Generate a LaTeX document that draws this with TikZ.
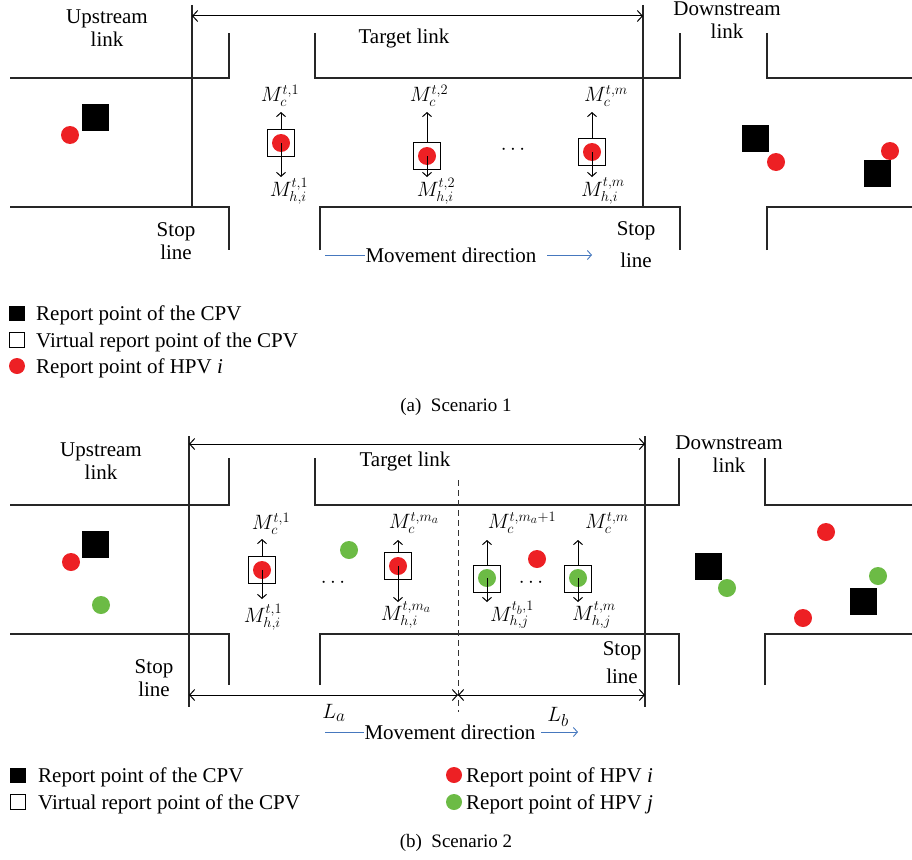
\documentclass[tikz,border=0pt]{standalone}
\usepackage{fontspec}
\setmainfont{Liberation Serif}
\usetikzlibrary{arrows.meta}
\definecolor{hpvred}{RGB}{237,32,36}
\definecolor{hpvgreen}{RGB}{108,187,69}
\definecolor{mvblue}{RGB}{70,120,190}
\DeclareMathSizes{20}{20}{15.5}{12}
\DeclareMathSizes{21}{21}{16}{12}
\newcommand\lblfont{\fontsize{21}{25}\selectfont}
\newcommand\capfont{\fontsize{19}{23}\selectfont}
\newcommand\mathfnt{\fontsize{20}{23}\selectfont}
\begin{document}
\begin{tikzpicture}[x=1pt,y=-1pt,
  road/.style={line width=1.1pt,black!85},
  dimarr/.style={line width=1pt,{Straight Barb[length=5pt,width=11pt]}-{Straight Barb[length=5pt,width=11pt]}},
  marr/.style={line width=1pt,-{Straight Barb[length=4pt,width=9pt]}},
  mvarr/.style={line width=0.9pt,mvblue,-{Straight Barb[length=4pt,width=9pt]}},
  mvline/.style={line width=0.9pt,mvblue},
  cpv/.style={rectangle,fill=black,minimum size=27pt,inner sep=0pt},
  vbox/.style={rectangle,draw,line width=1pt,minimum size=27pt,inner sep=0pt},
  hpvi/.style={circle,fill=hpvred,minimum size=18pt,inner sep=0pt},
  hpvj/.style={circle,fill=hpvgreen,minimum size=18pt,inner sep=0pt},
  legsq/.style={rectangle,fill=black,minimum width=16pt,minimum height=15pt,inner sep=0pt},
  legvsq/.style={rectangle,draw,line width=0.9pt,minimum width=15pt,minimum height=15pt,inner sep=0pt},
  legci/.style={circle,fill=#1,minimum size=16pt,inner sep=0pt},
  lbl/.style={font=\lblfont,align=center,inner sep=0pt},
  leglbl/.style={font=\lblfont,anchor=base west,inner sep=0pt},
  caplbl/.style={font=\capfont,inner sep=0pt},
  mlbl/.style={font=\mathfnt,inner sep=0pt},
  bigm/.style={font=\lblfont,inner sep=0pt}]
\useasboundingbox (0,0) rectangle (912,859);

% ================= Scenario 1 =================
\draw[road] (10,78) -- (229,78) -- (229,33);
\draw[road] (315,33) -- (315,78) -- (680,78) -- (680,33);
\draw[road] (767,33) -- (767,78) -- (912,78);
\draw[road] (10,207) -- (229,207) -- (229,250);
\draw[road] (320,250) -- (320,207) -- (680,207) -- (680,250);
\draw[road] (767,250) -- (767,207) -- (912,207);
\draw[road] (192,5) -- (192,207);
\draw[road] (643,5) -- (643,207);
\coordinate (ta1) at (192,16);
\coordinate (ta2) at (643,16);
\draw[dimarr] (ta1) -- (ta2);

\node[lbl] (upa) at (107,28) {Upstream\\[-2pt]link};
\node[lbl] (tga) at (404,38) {Target link};
\node[lbl] (dna) at (727,20) {Downstream\\[-2pt]link};
\node[lbl] (sla) at (176,241) {Stop\\[-2pt]line};
\node[lbl] (slb) at (636,245) {Stop\\[7pt]line};

\node[hpvi] (ua1) at (70,135) {};
\node[cpv] (ua2) at (95,117) {};

\node[vbox] (va1) at (281,143) {};
\node[hpvi] (ra1) at (281,143) {};
\coordinate (va1u) at (281,112);
\coordinate (va1d) at (281,177);
\draw[marr] (va1.north) -- (va1u);
\draw[marr] (ra1.center) -- (va1d);
\node[mlbl] (mca1) at (280,96) {$M_c^{t,1}$};
\node[mlbl] (mha1) at (289,191) {$M_{h,i}^{t,1}$};

\node[vbox] (va2) at (427,156) {};
\node[hpvi] (ra2) at (427,156) {};
\coordinate (va2u) at (427,112);
\coordinate (va2d) at (427,177);
\draw[marr] (va2.north) -- (va2u);
\draw[marr] (ra2.center) -- (va2d);
\node[mlbl] (mca2) at (429,96) {$M_c^{t,2}$};
\node[mlbl] (mha2) at (436,191) {$M_{h,i}^{t,2}$};

\node[bigm] (dota) at (513,150) {$\cdots$};

\node[vbox] (va3) at (592,152) {};
\node[hpvi] (ra3) at (592,152) {};
\coordinate (va3u) at (592,112);
\coordinate (va3d) at (592,177);
\draw[marr] (va3.north) -- (va3u);
\draw[marr] (ra3.center) -- (va3d);
\node[mlbl] (mca3) at (606,96) {$M_c^{t,m}$};
\node[mlbl] (mha3) at (603,191) {$M_{h,i}^{t,m}$};

\node[cpv] (da1) at (755,138) {};
\node[hpvi] (da2) at (776,162) {};
\node[hpvi] (da3) at (890,151) {};
\node[cpv] (da4) at (877,173) {};

\coordinate (mva1) at (325,255);
\node[lbl] (mvat) at (451,255) {Movement direction};
\coordinate (mva2) at (547,255);
\coordinate (mva3) at (592,255);
\draw[mvline] (mva1) -- (mvat.west);
\draw[mvarr] (mva2) -- (mva3);

\node[legsq] (la1) at (17,313) {};
\node[leglbl] (la1t) at (36,320) {Report point of the CPV};
\node[legvsq] (la2) at (17,340) {};
\node[leglbl] (la2t) at (36,347) {Virtual report point of the CPV};
\node[legci=hpvred] (la3) at (17,366) {};
\node[leglbl] (la3t) at (36,373) {Report point of HPV \textit{i}};

\node[caplbl] (capa) at (456,407) {(a)\enspace Scenario 1};

% ================= Scenario 2 =================
\draw[road] (10,505) -- (229,505) -- (229,458);
\draw[road] (315,458) -- (315,505) -- (679,505) -- (679,458);
\draw[road] (765,458) -- (765,505) -- (912,505);
\draw[road] (10,634) -- (229,634) -- (229,685);
\draw[road] (320,685) -- (320,634) -- (679,634) -- (679,685);
\draw[road] (765,685) -- (765,634) -- (912,634);
\draw[road] (189,436) -- (189,707);
\draw[road] (645,436) -- (645,707);
\draw[line width=1pt,dashed,dash pattern=on 6pt off 4pt,black!80] (458,480) -- (458,712);
\coordinate (tb1) at (189,444);
\coordinate (tb2) at (645,444);
\draw[dimarr] (tb1) -- (tb2);
\coordinate (bb1) at (189,695);
\coordinate (bb2) at (458,695);
\coordinate (bb3) at (645,695);
\draw[dimarr] (bb1) -- (bb2);
\draw[dimarr] (bb2) -- (bb3);

\node[lbl] (upb) at (101,461) {Upstream\\[-2pt]link};
\node[lbl] (tgb) at (405,461) {Target link};
\node[lbl] (dnb) at (729,454) {Downstream\\[-2pt]link};
\node[lbl] (slc) at (154,678) {Stop\\[-2pt]line};
\node[lbl] (sld) at (622,663) {Stop\\[3pt]line};

\node[hpvi] (ub1) at (71,562) {};
\node[cpv] (ub2) at (95,544) {};
\node[hpvj] (ub3) at (101,605) {};

\node[vbox] (vb1) at (262,570) {};
\node[hpvi] (rb1) at (262,570) {};
\coordinate (vb1u) at (262,539);
\coordinate (vb1d) at (262,599);
\draw[marr] (vb1.north) -- (vb1u);
\draw[marr] (rb1.center) -- (vb1d);
\node[mlbl] (mcb1) at (271,524) {$M_c^{t,1}$};
\node[mlbl] (mhb1) at (263,617) {$M_{h,i}^{t,1}$};

\node[bigm] (dotb1) at (333,583) {$\cdots$};
\node[hpvj] (gb1) at (349,550) {};

\node[vbox] (vb2) at (398,566) {};
\node[hpvi] (rb2) at (398,566) {};
\coordinate (vb2u) at (398,540);
\coordinate (vb2d) at (398,602);
\draw[marr] (vb2.north) -- (vb2u);
\draw[marr] (rb2.center) -- (vb2d);
\node[mlbl] (mcb2) at (414,523) {$M_c^{t,m_a}$};
\node[mlbl] (mhb2) at (406,615) {$M_{h,i}^{t,m_a}$};

\node[vbox] (vb3) at (487,579) {};
\node[hpvj] (gb3) at (487,578) {};
\coordinate (vb3u) at (487,540);
\coordinate (vb3d) at (487,602);
\draw[marr] (vb3.north) -- (vb3u);
\draw[marr] (gb3.center) -- (vb3d);
\node[mlbl] (mcb3) at (522,523) {$M_c^{t,m_a+1}$};
\node[mlbl] (mhb3) at (512,615) {$M_{h,j}^{t_b,1}$};

\node[hpvi] (rb4) at (537,559) {};
\node[bigm] (dotb2) at (531,583) {$\cdots$};

\node[vbox] (vb4) at (578,579) {};
\node[hpvj] (gb4) at (578,578) {};
\coordinate (vb4u) at (578,540);
\coordinate (vb4d) at (578,602);
\draw[marr] (vb4.north) -- (vb4u);
\draw[marr] (gb4.center) -- (vb4d);
\node[mlbl] (mcb4) at (607,523) {$M_c^{t,m}$};
\node[mlbl] (mhb4) at (594,615) {$M_{h,j}^{t,m}$};

\node[cpv] (db1) at (708,566) {};
\node[hpvj] (db2) at (727,588) {};
\node[hpvi] (db3) at (826,532) {};
\node[hpvj] (db4) at (878,576) {};
\node[cpv] (db5) at (863,601) {};
\node[hpvi] (db6) at (803,618) {};

\node[bigm] (lab) at (334,713) {$L_a$};
\node[bigm] (lbb) at (558,717) {$L_b$};

\coordinate (mvb1) at (325,732);
\node[lbl] (mvbt) at (450,732) {Movement direction};
\coordinate (mvb2) at (541,732);
\coordinate (mvb3) at (578,732);
\draw[mvline] (mvb1) -- (mvbt.west);
\draw[mvarr] (mvb2) -- (mvb3);

\node[legsq] (lb1) at (18,775) {};
\node[leglbl] (lb1t) at (38,782) {Report point of the CPV};
\node[legvsq] (lb2) at (18,802) {};
\node[leglbl] (lb2t) at (38,809) {Virtual report point of the CPV};
\node[legci=hpvred] (lb3) at (454,775) {};
\node[leglbl] (lb3t) at (466,782) {Report point of HPV \textit{i}};
\node[legci=hpvgreen] (lb4) at (454,802) {};
\node[leglbl] (lb4t) at (466,809) {Report point of HPV \textit{j}};

\node[caplbl] (capb) at (456,843) {(b)\enspace Scenario 2};
\end{tikzpicture}
\end{document}
